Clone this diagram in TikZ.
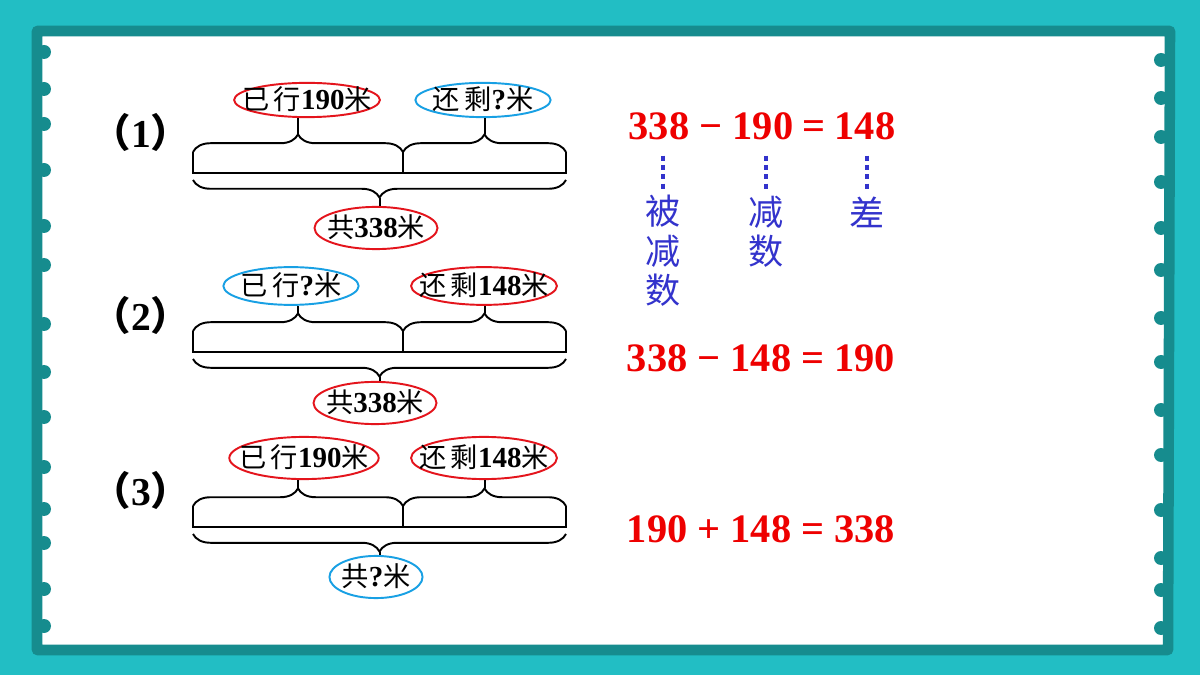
\documentclass[tikz,border=0pt]{standalone}
\usepackage{fontspec}
\setmainfont{Liberation Serif}
\newfontfamily\cjk{Noto Sans CJK SC}
\usetikzlibrary{shapes.geometric,decorations.pathreplacing}

\definecolor{bgteal}{RGB}{34,190,196}
\definecolor{rimteal}{RGB}{22,140,142}
\definecolor{tagred}{RGB}{228,20,28}
\definecolor{tagblue}{RGB}{24,160,228}
\definecolor{eqred}{RGB}{238,0,0}
\definecolor{namblue}{RGB}{51,51,204}

\newcommand\zi[1]{{\cjk #1}}
\newcommand\shu[1]{{\fontsize{16.5}{16.5}\selectfont\bfseries #1}}
\newcommand\inbox[1]{\makebox[0pt]{\raisebox{-.36em}[0pt][0pt]{#1}}}

\begin{document}
\begin{tikzpicture}[x=0.02cm, y=-0.02cm,
        tag/.style = {ellipse, draw, line width=1.1pt, inner sep=0pt, minimum height=24pt, font=\fontsize{15.5}{16}\selectfont},
        red tag/.style = {tag, draw=tagred},
        blue tag/.style = {tag, draw=tagblue},
        num/.style = {font=\fontsize{22.5}{24}\selectfont\bfseries, inner sep=0pt},
        eq/.style = {font=\fontsize{23}{23}\selectfont\bfseries, text=eqred, anchor=base, inner sep=0pt},
        term/.style = {font=\cjk\fontsize{20}{22.4}\selectfont, text=namblue, align=center, inner sep=0pt},
        dots/.style = {namblue, line width=2.8pt, dash pattern=on 2.8pt off 2.5pt},
        bar/.style = {line width=1.1pt},
        br/.style = {decorate, decoration={brace, amplitude=10pt}, line width=1.1pt} ]
        \useasboundingbox (0,0) rectangle (1200,675);
        \fill[bgteal] (0,0) rectangle (1200,675);
        \draw[rimteal, fill=white, line width=6pt, line join=round] (37,31) -- (1170,31) -- (1168,650) -- (37,650) -- cycle;
        \foreach \y in {52,89,124,170,226,265,324,372,417,467,509,543,589,626}
            \fill[rimteal] (44,\y) circle [radius=7];
        \foreach \y in {60,98,137,182,228,270,318,362,410,455,510,558,590,628}
            \fill[rimteal] (1161,\y) circle [radius=7];

        % (1)
        \node at (141,132) [num] (p1) {\zi{（}1\zi{）}};
        \draw[bar] (193,152) -- (193,173) -- (566,173) -- (566,152) (403,152) -- (403,173);
        \draw[br] (193,152) -- (403,152);
        \draw[br] (403,152) -- (566,152);
        \draw[br] (566,180) -- (193,180);
        \coordinate (t1a) at (298,134);
        \coordinate (t1b) at (485,134);
        \coordinate (t1c) at (380,198);
        \node at (307,100) [red tag, minimum width=83pt, minimum height=19.5pt] (l1a) {\inbox{\zi{已\,行}\shu{190}\zi{米}}};
        \node at (483,100) [blue tag, minimum width=77pt, minimum height=19.5pt] (l1b) {\inbox{\zi{还\,剩}\shu{?}\zi{米}}};
        \node at (376,228) [red tag, minimum width=70pt] (l1c) {\inbox{\zi{共}\shu{338}\zi{米}}};
        \draw[bar] (t1a) -- (t1a |- l1a.south) (t1b) -- (t1b |- l1b.south) (t1c) -- (t1c |- l1c.north);

        % (2)
        \node at (141,315) [num] (p2) {\zi{（}2\zi{）}};
        \draw[bar] (193,331) -- (193,352) -- (566,352) -- (566,331) (403,331) -- (403,352);
        \draw[br] (193,331) -- (403,331);
        \draw[br] (403,331) -- (566,331);
        \draw[br] (566,359) -- (193,359);
        \coordinate (t2a) at (298,313);
        \coordinate (t2b) at (485,313);
        \coordinate (t2c) at (380,377);
        \node at (291,286) [blue tag, minimum width=77pt, minimum height=21.5pt] (l2a) {\inbox{\zi{已\,行}\shu{?}\zi{米}}};
        \node at (484,286) [red tag, minimum width=83pt, minimum height=21.5pt] (l2b) {\inbox{\zi{还\,剩}\shu{148}\zi{米}}};
        \node at (375,403) [red tag, minimum width=70pt] (l2c) {\inbox{\zi{共}\shu{338}\zi{米}}};
        \draw[bar] (t2a) -- (t2a |- l2a.south) (t2b) -- (t2b |- l2b.south) (t2c) -- (t2c |- l2c.north);

        % (3)
        \node at (141,490) [num] (p3) {\zi{（}3\zi{）}};
        \draw[bar] (193,506) -- (193,527) -- (566,527) -- (566,506) (403,506) -- (403,527);
        \draw[br] (193,506) -- (403,506);
        \draw[br] (403,506) -- (566,506);
        \draw[br] (566,534) -- (193,534);
        \coordinate (t3a) at (298,488);
        \coordinate (t3b) at (485,488);
        \coordinate (t3c) at (380,552);
        \node at (304,458) [red tag, minimum width=85pt] (l3a) {\inbox{\zi{已\,行}\shu{190}\zi{米}}};
        \node at (484,458) [red tag, minimum width=83pt] (l3b) {\inbox{\zi{还\,剩}\shu{148}\zi{米}}};
        \node at (376,577) [blue tag, minimum width=53pt] (l3c) {\inbox{\zi{共}\shu{?}\zi{米}}};
        \draw[bar] (t3a) -- (t3a |- l3a.south) (t3b) -- (t3b |- l3b.south) (t3c) -- (t3c |- l3c.north);

        % equations
        \node at (659,140) [eq] (a1) {338};
        \node at (711,140) [eq] (m1) {−};
        \node at (763,140) [eq] (b1) {190};
        \node at (814,140) [eq] (q1) {=};
        \node at (865,140) [eq] (c1) {148};
        \node at (663,251) [term] (bjs) {被\\减\\数};
        \node at (766,232) [term] (js) {减\\数};
        \node at (867,212) [term] (ch) {差};
        \draw[dots, shorten <=8.5pt, shorten >=3pt] (bjs.north |- a1.south) -- (bjs.north);
        \draw[dots, shorten <=8.5pt, shorten >=3pt] (js.north |- b1.south) -- (js.north);
        \draw[dots, shorten <=8.5pt, shorten >=3pt] (ch.north |- c1.south) -- (ch.north);
        \node at (761,372) [eq] (e2) {338 − 148 = 190};
        \node at (761,542) [eq] (e3) {190 + 148 = 338};
    \end{tikzpicture}
\end{document}
